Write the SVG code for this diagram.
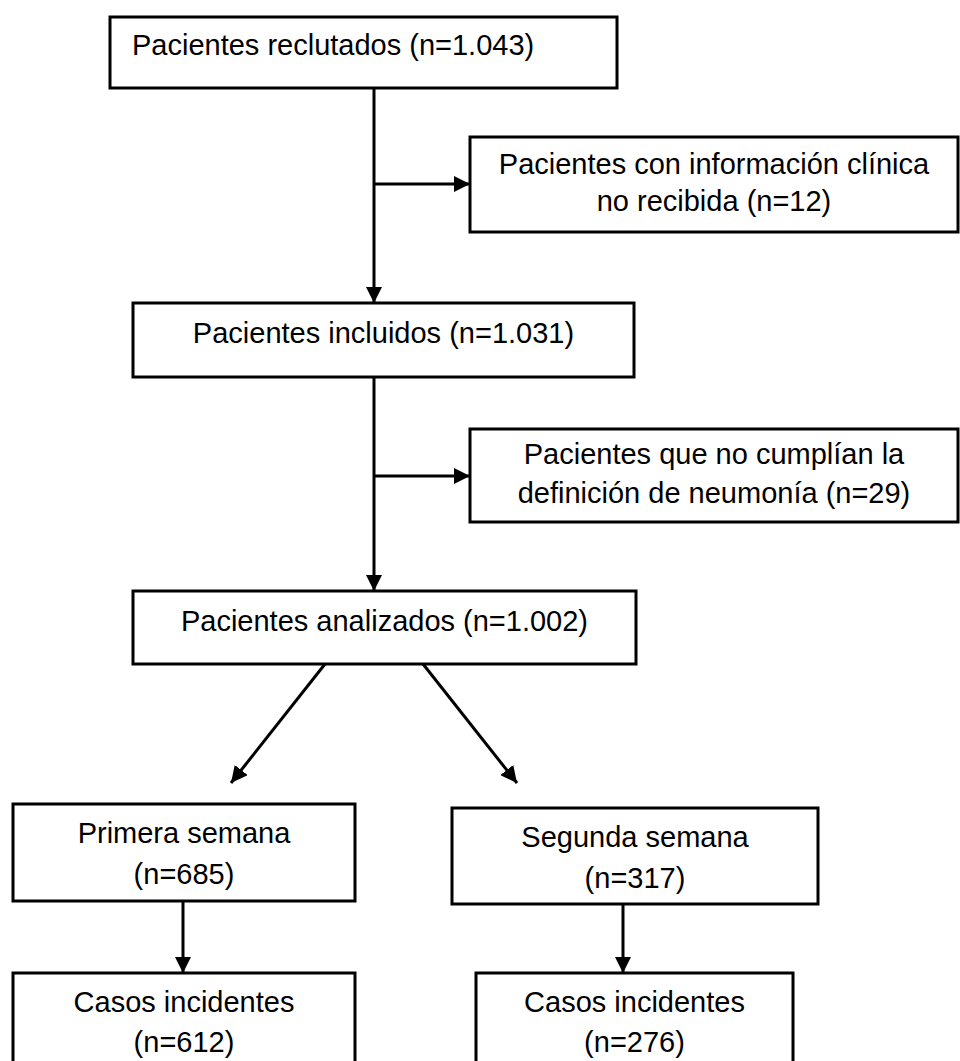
<svg xmlns="http://www.w3.org/2000/svg" width="960" height="1061" viewBox="0 0 960 1061">
<defs>
<marker id="ah" viewBox="0 0 10 10" refX="10" refY="5" markerWidth="5.5" markerHeight="5.5" markerUnits="strokeWidth" orient="auto">
<path d="M0,0 L10,5 L0,10 Z" fill="#000"/>
</marker>
<style>
.box{fill:#fff;stroke:#000;stroke-width:3}
.t{font-family:"Liberation Sans",Arial,sans-serif;font-size:29px;fill:#000}
.c{text-anchor:middle}
.ln{stroke:#000;stroke-width:3;fill:none}
</style>
</defs>
<rect width="960" height="1061" fill="#fff"/>
<g id="connectors">
<line class="ln" x1="374" y1="88" x2="374" y2="303" marker-end="url(#ah)"/>
<line class="ln" x1="374" y1="184" x2="470" y2="184" marker-end="url(#ah)"/>
<line class="ln" x1="374" y1="377" x2="374" y2="591" marker-end="url(#ah)"/>
<line class="ln" x1="374" y1="476" x2="470" y2="476" marker-end="url(#ah)"/>
<line class="ln" x1="325" y1="664" x2="231" y2="783" marker-end="url(#ah)"/>
<line class="ln" x1="423" y1="664" x2="517" y2="783" marker-end="url(#ah)"/>
<line class="ln" x1="183" y1="901" x2="183" y2="973" marker-end="url(#ah)"/>
<line class="ln" x1="623" y1="904" x2="623" y2="973" marker-end="url(#ah)"/>
</g>
<g id="n1">
<rect class="box" x="110" y="17" width="507" height="71"/>
<text class="t" x="132" y="55">Pacientes reclutados (n=1.043)</text>
</g>
<g id="n2">
<rect class="box" x="470" y="137" width="488" height="95"/>
<text class="t c" x="714" y="174">Pacientes con información clínica</text>
<text class="t c" x="714" y="211">no recibida (n=12)</text>
</g>
<g id="n3">
<rect class="box" x="133" y="303" width="501" height="74"/>
<text class="t c" x="383.5" y="343">Pacientes incluidos (n=1.031)</text>
</g>
<g id="n4">
<rect class="box" x="470" y="429" width="488" height="93"/>
<text class="t c" x="714" y="464">Pacientes que no cumplían la</text>
<text class="t c" x="714" y="503">definición de neumonía (n=29)</text>
</g>
<g id="n5">
<rect class="box" x="133" y="591" width="503" height="73"/>
<text class="t c" x="384.5" y="631">Pacientes analizados (n=1.002)</text>
</g>
<g id="n6">
<rect class="box" x="13" y="804" width="342" height="97"/>
<text class="t c" x="184" y="843">Primera semana</text>
<text class="t c" x="184" y="884">(n=685)</text>
</g>
<g id="n7">
<rect class="box" x="452" y="808" width="366" height="96"/>
<text class="t c" x="635" y="847">Segunda semana</text>
<text class="t c" x="635" y="888">(n=317)</text>
</g>
<g id="n8">
<rect class="box" x="13" y="973" width="342" height="110"/>
<text class="t c" x="184" y="1012">Casos incidentes</text>
<text class="t c" x="184" y="1052">(n=612)</text>
</g>
<g id="n9">
<rect class="box" x="476" y="973" width="317" height="110"/>
<text class="t c" x="634.5" y="1012">Casos incidentes</text>
<text class="t c" x="634.5" y="1052">(n=276)</text>
</g>
</svg>
